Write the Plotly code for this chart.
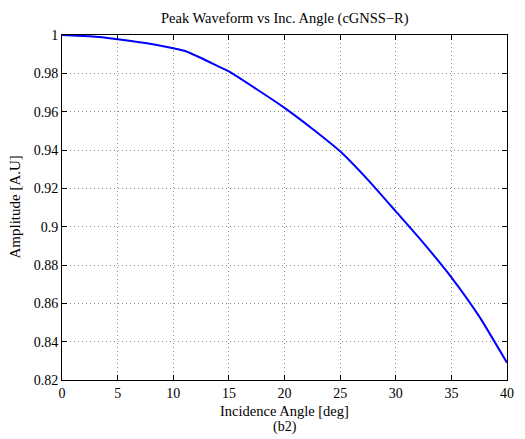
import plotly.graph_objects as go

angles = [0, 2.5, 5, 7.5, 10, 11, 12.5, 14, 15, 17.5, 20, 22.5, 25, 27.5, 30, 32.5, 35, 37.5, 40]
amplitude = [1.0, 0.9993, 0.9978, 0.9958, 0.9931, 0.9918, 0.9880, 0.9838, 0.9810, 0.9717,
             0.9620, 0.9511, 0.9393, 0.9244, 0.9080, 0.8914, 0.8736, 0.8532, 0.8290]
x_ticks = [0, 5, 10, 15, 20, 25, 30, 35, 40]
y_ticks = [0.82, 0.84, 0.86, 0.88, 0.9, 0.92, 0.94, 0.96, 0.98, 1]
y_tick_text = ["0.82", "0.84", "0.86", "0.88", "0.9", "0.92", "0.94", "0.96", "0.98", "1"]

FONT = "Liberation Serif"

fig = go.Figure()
fig.add_trace(go.Scatter(x=angles, y=amplitude, mode="lines",
                         line=dict(color="#0000ff", width=2, shape="spline", smoothing=0.5),
                         showlegend=False))

axis_common = dict(
    showline=True, linecolor="black", linewidth=1, mirror="ticks",
    ticks="inside", ticklen=5, tickcolor="black", tickwidth=1,
    showgrid=True, gridcolor="#8c8c8c", gridwidth=1, griddash="1px,3px",
    zeroline=False, tickfont=dict(family=FONT, size=14, color="black"),
)

fig.update_xaxes(range=[0, 40], tickvals=x_ticks, ticktext=[str(t) for t in x_ticks], **axis_common)
fig.update_yaxes(range=[0.82, 1.0], tickvals=y_ticks, ticktext=y_tick_text, **axis_common)

fig.update_layout(
    width=525, height=439,
    margin=dict(l=62, r=18, t=35, b=59),
    paper_bgcolor="white", plot_bgcolor="white",
    font=dict(family=FONT, color="black"),
    annotations=[
        dict(text="Peak Waveform vs Inc. Angle (cGNSS\u2212R)", x=0.5, y=1, xref="paper", yref="paper",
             yshift=17, showarrow=False, font=dict(family=FONT, size=14.5), xanchor="center", yanchor="middle"),
        dict(text="Incidence Angle [deg]", x=0.5, y=0, xref="paper", yref="paper",
             yshift=-31, showarrow=False, font=dict(family=FONT, size=14.5), xanchor="center", yanchor="middle"),
        dict(text="(b2)", x=0.5, y=0, xref="paper", yref="paper",
             yshift=-47, showarrow=False, font=dict(family=FONT, size=14), xanchor="center", yanchor="middle"),
        dict(text="Amplitude [A.U]", x=0, y=0.5, xref="paper", yref="paper",
             xshift=-48, showarrow=False, textangle=-90, font=dict(family=FONT, size=15),
             xanchor="center", yanchor="middle"),
    ],
)

fig.write_html("out.html")
